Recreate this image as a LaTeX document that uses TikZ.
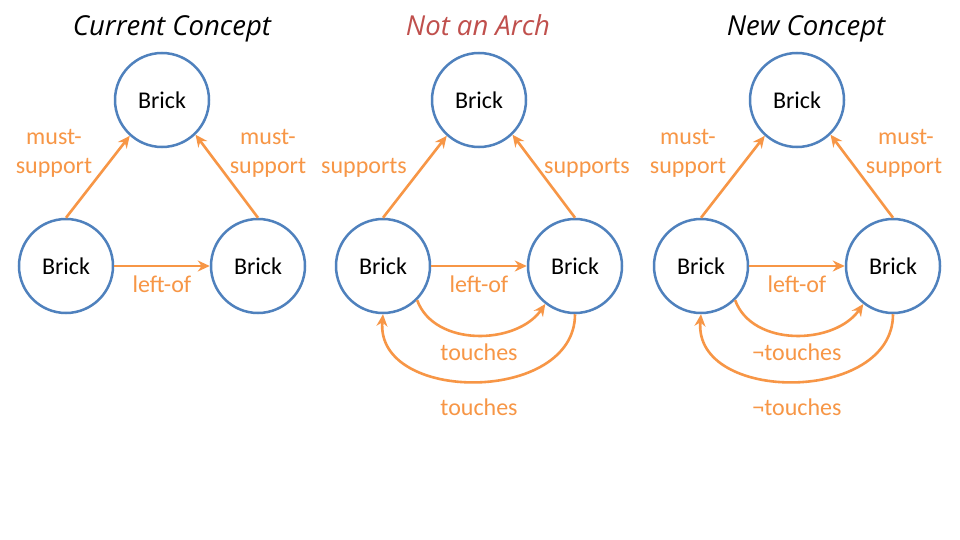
\documentclass[tikz,border=0pt]{standalone}
\usepackage{fontspec}
\setmainfont{Carlito}
\newfontfamily\titlefont{Open Sans}
\usetikzlibrary{arrows.meta}
\definecolor{brickblue}{HTML}{4F81BD}
\definecolor{relorange}{HTML}{F79646}
\definecolor{archred}{HTML}{C0504D}
\tikzset{
  brick/.style={circle, draw=brickblue, line width=2.5pt, minimum size=94pt, inner sep=0pt, font=\fontsize{24}{29}\selectfont},
  rel/.style={draw=relorange, line width=2.6pt, -{Stealth[length=12pt,width=11pt]}},
  rellabel/.style={text=relorange, anchor=base, inner sep=0pt, font=\fontsize{24}{29}\selectfont},
  paneltitle/.style={anchor=base, inner sep=0pt, font=\titlefont\itshape\fontsize{27.5}{32}\selectfont}
}
\begin{document}
\begin{tikzpicture}[x=1pt,y=1pt]
\useasboundingbox[fill=white] (0,0) rectangle (960,-540);
% titles
\node[paneltitle] (title1) at (172,-36) {Current Concept};
\node[paneltitle, text=archred] (title2) at (478,-36) {Not an Arch};
\node[paneltitle] (title3) at (806,-36) {New Concept};
% panel 1
\node[brick] (t1) at (162,-100) {Brick};
\node[brick] (l1) at (66,-266) {Brick};
\node[brick] (r1) at (258,-266) {Brick};
\draw[rel] (l1.north) -- (t1.-132);
\draw[rel] (r1.north) -- (t1.-46);
\draw[rel] (l1.east) -- (r1.west);
\node[rellabel] (m1a) at (54,-145) {must-};
\node[rellabel] (m1b) at (54,-174) {support};
\node[rellabel] (m1c) at (268,-145) {must-};
\node[rellabel] (m1d) at (268,-174) {support};
\node[rellabel] (lo1) at (162,-292) {left-of};
% panel 2
\node[brick] (t2) at (479,-100) {Brick};
\node[brick] (l2) at (383,-266) {Brick};
\node[brick] (r2) at (575,-266) {Brick};
\draw[rel] (l2.north) -- (t2.-132);
\draw[rel] (r2.north) -- (t2.-46);
\draw[rel] (l2.east) -- (r2.west);
\draw[rel] (l2.-45) to[out=-70,in=-125] (r2.-128);
\draw[rel] (r2.south) to[out=-90,in=-95,looseness=1.2] (l2.south);
\node[rellabel] (s2a) at (364,-174) {supports};
\node[rellabel] (s2b) at (587,-174) {supports};
\node[rellabel] (lo2) at (479,-292) {left-of};
\node[rellabel] (tc2a) at (479,-360) {touches};
\node[rellabel] (tc2b) at (479,-415) {touches};
% panel 3
\node[brick] (t3) at (797,-100) {Brick};
\node[brick] (l3) at (701,-266) {Brick};
\node[brick] (r3) at (893,-266) {Brick};
\draw[rel] (l3.north) -- (t3.-132);
\draw[rel] (r3.north) -- (t3.-46);
\draw[rel] (l3.east) -- (r3.west);
\draw[rel] (l3.-45) to[out=-70,in=-125] (r3.-128);
\draw[rel] (r3.south) to[out=-90,in=-95,looseness=1.2] (l3.south);
\node[rellabel] (m3a) at (688,-145) {must-};
\node[rellabel] (m3b) at (688,-174) {support};
\node[rellabel] (m3c) at (906,-145) {must-};
\node[rellabel] (m3d) at (904,-174) {support};
\node[rellabel] (lo3) at (797,-292) {left-of};
\node[rellabel] (tc3a) at (797,-360) {¬touches};
\node[rellabel] (tc3b) at (797,-415) {¬touches};
\end{tikzpicture}
\end{document}
